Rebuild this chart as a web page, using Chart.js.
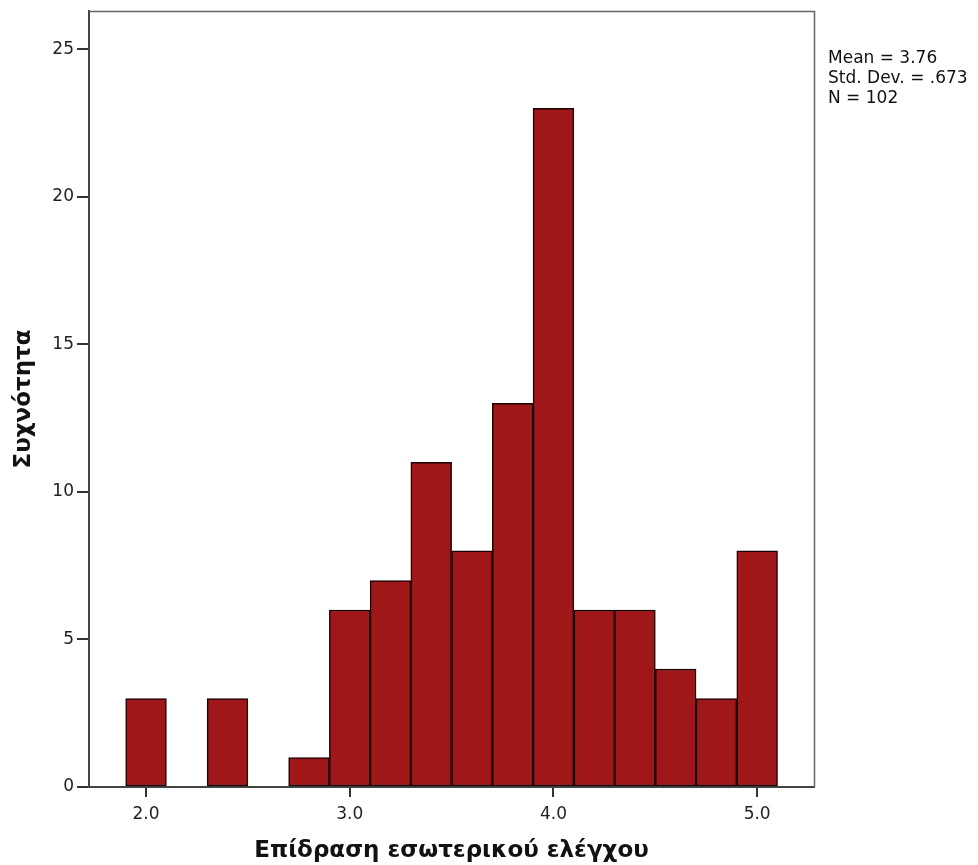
<!DOCTYPE html>
<html>
<head>
<meta charset="utf-8">
<script src="https://cdn.jsdelivr.net/npm/chart.js@4.4.1/dist/chart.umd.min.js"></script>
<style>
  html, body { margin: 0; padding: 0; background: #fff; }
  #wrap { width: 978px; height: 865px; position: relative; }
</style>
</head>
<body>
<div id="wrap"><canvas id="c" width="978" height="865"></canvas></div>
<script>
// Histogram bin centres (bin width 0.2) and frequencies
const binCenters = [2.0, 2.2, 2.4, 2.6, 2.8, 3.0, 3.2, 3.4, 3.6, 3.8, 4.0, 4.2, 4.4, 4.6, 4.8, 5.0];
const frequencies = [3, 0, 3, 0, 1, 6, 7, 11, 8, 13, 23, 6, 6, 4, 3, 8];
const xTickValues = [2.0, 3.0, 4.0, 5.0];
const yTickValues = [0, 5, 10, 15, 20, 25];
const statsLines = ['Mean = 3.76', 'Std. Dev. = .673', 'N = 102'];
const xTitle = 'Επίδραση εσωτερικού ελέγχου';
const yTitle = 'Συχνότητα';

const FONT = "'DejaVu Sans', 'Open Sans', sans-serif";

const framePlugin = {
  id: 'frame',
  afterDraw(chart) {
    const { ctx, chartArea: a } = chart;
    ctx.save();
    ctx.strokeStyle = '#666';
    ctx.lineWidth = 1.5;
    ctx.beginPath();
    ctx.moveTo(a.left, a.top + 0.5);
    ctx.lineTo(a.right + 0.5, a.top + 0.5);
    ctx.lineTo(a.right + 0.5, a.bottom);
    ctx.stroke();
    // stats text
    ctx.fillStyle = '#111';
    ctx.font = '17px ' + FONT;
    ctx.textBaseline = 'alphabetic';
    ctx.textAlign = 'left';
    statsLines.forEach((t, i) => ctx.fillText(t, a.right + 14, 63 + i * 20));
    ctx.restore();
  }
};

new Chart(document.getElementById('c'), {
  type: 'bar',
  data: {
    datasets: [{
      data: binCenters.map((x, i) => ({ x: x, y: frequencies[i] })),
      backgroundColor: '#A0171A',
      borderColor: '#1a0303',
      borderWidth: 1.5,
      borderSkipped: false,
      barPercentage: 1.0,
      categoryPercentage: 1.0
    }]
  },
  options: {
    responsive: false,
    animation: false,
    devicePixelRatio: 1,
    layout: { padding: { left: 0, right: 164, top: 11, bottom: 0 } },
    plugins: { legend: { display: false }, tooltip: { enabled: false } },
    scales: {
      x: {
        type: 'linear',
        min: 1.72,
        max: 5.279,
        offset: false,
        afterBuildTicks(scale) { scale.ticks = xTickValues.map(v => ({ value: v })); },
        afterFit(scale) { scale.height = 78; scale.paddingLeft = 0; scale.paddingRight = 0; },
        ticks: {
          callback: v => Number(v).toFixed(1),
          color: '#222',
          font: { family: FONT, size: 17 },
          padding: 7,
          maxRotation: 0,
          autoSkip: false
        },
        grid: { offset: false, drawOnChartArea: false, drawTicks: true, tickLength: 10, color: '#333', lineWidth: 2 },
        border: { display: true, color: '#444', width: 2 },
        title: {
          display: true,
          text: xTitle,
          color: '#111',
          font: { family: FONT, size: 23, weight: 'bold' },
          padding: { top: 6, bottom: 0 }
        }
      },
      y: {
        type: 'linear',
        min: 0,
        max: 26.3,
        afterBuildTicks(scale) { scale.ticks = yTickValues.map(v => ({ value: v })); },
        afterFit(scale) { scale.width = 89; scale.paddingTop = 0; scale.paddingBottom = 0; },
        ticks: {
          color: '#222',
          font: { family: FONT, size: 17 },
          padding: 3
        },
        grid: { drawOnChartArea: false, drawTicks: true, tickLength: 12, color: '#333', lineWidth: 2 },
        border: { display: true, color: '#444', width: 2 },
        title: {
          display: true,
          text: yTitle,
          color: '#111',
          font: { family: FONT, size: 23, weight: 'bold' },
          padding: { top: 10, bottom: 4 }
        }
      }
    }
  },
  plugins: [framePlugin]
});
</script>
</body>
</html>
